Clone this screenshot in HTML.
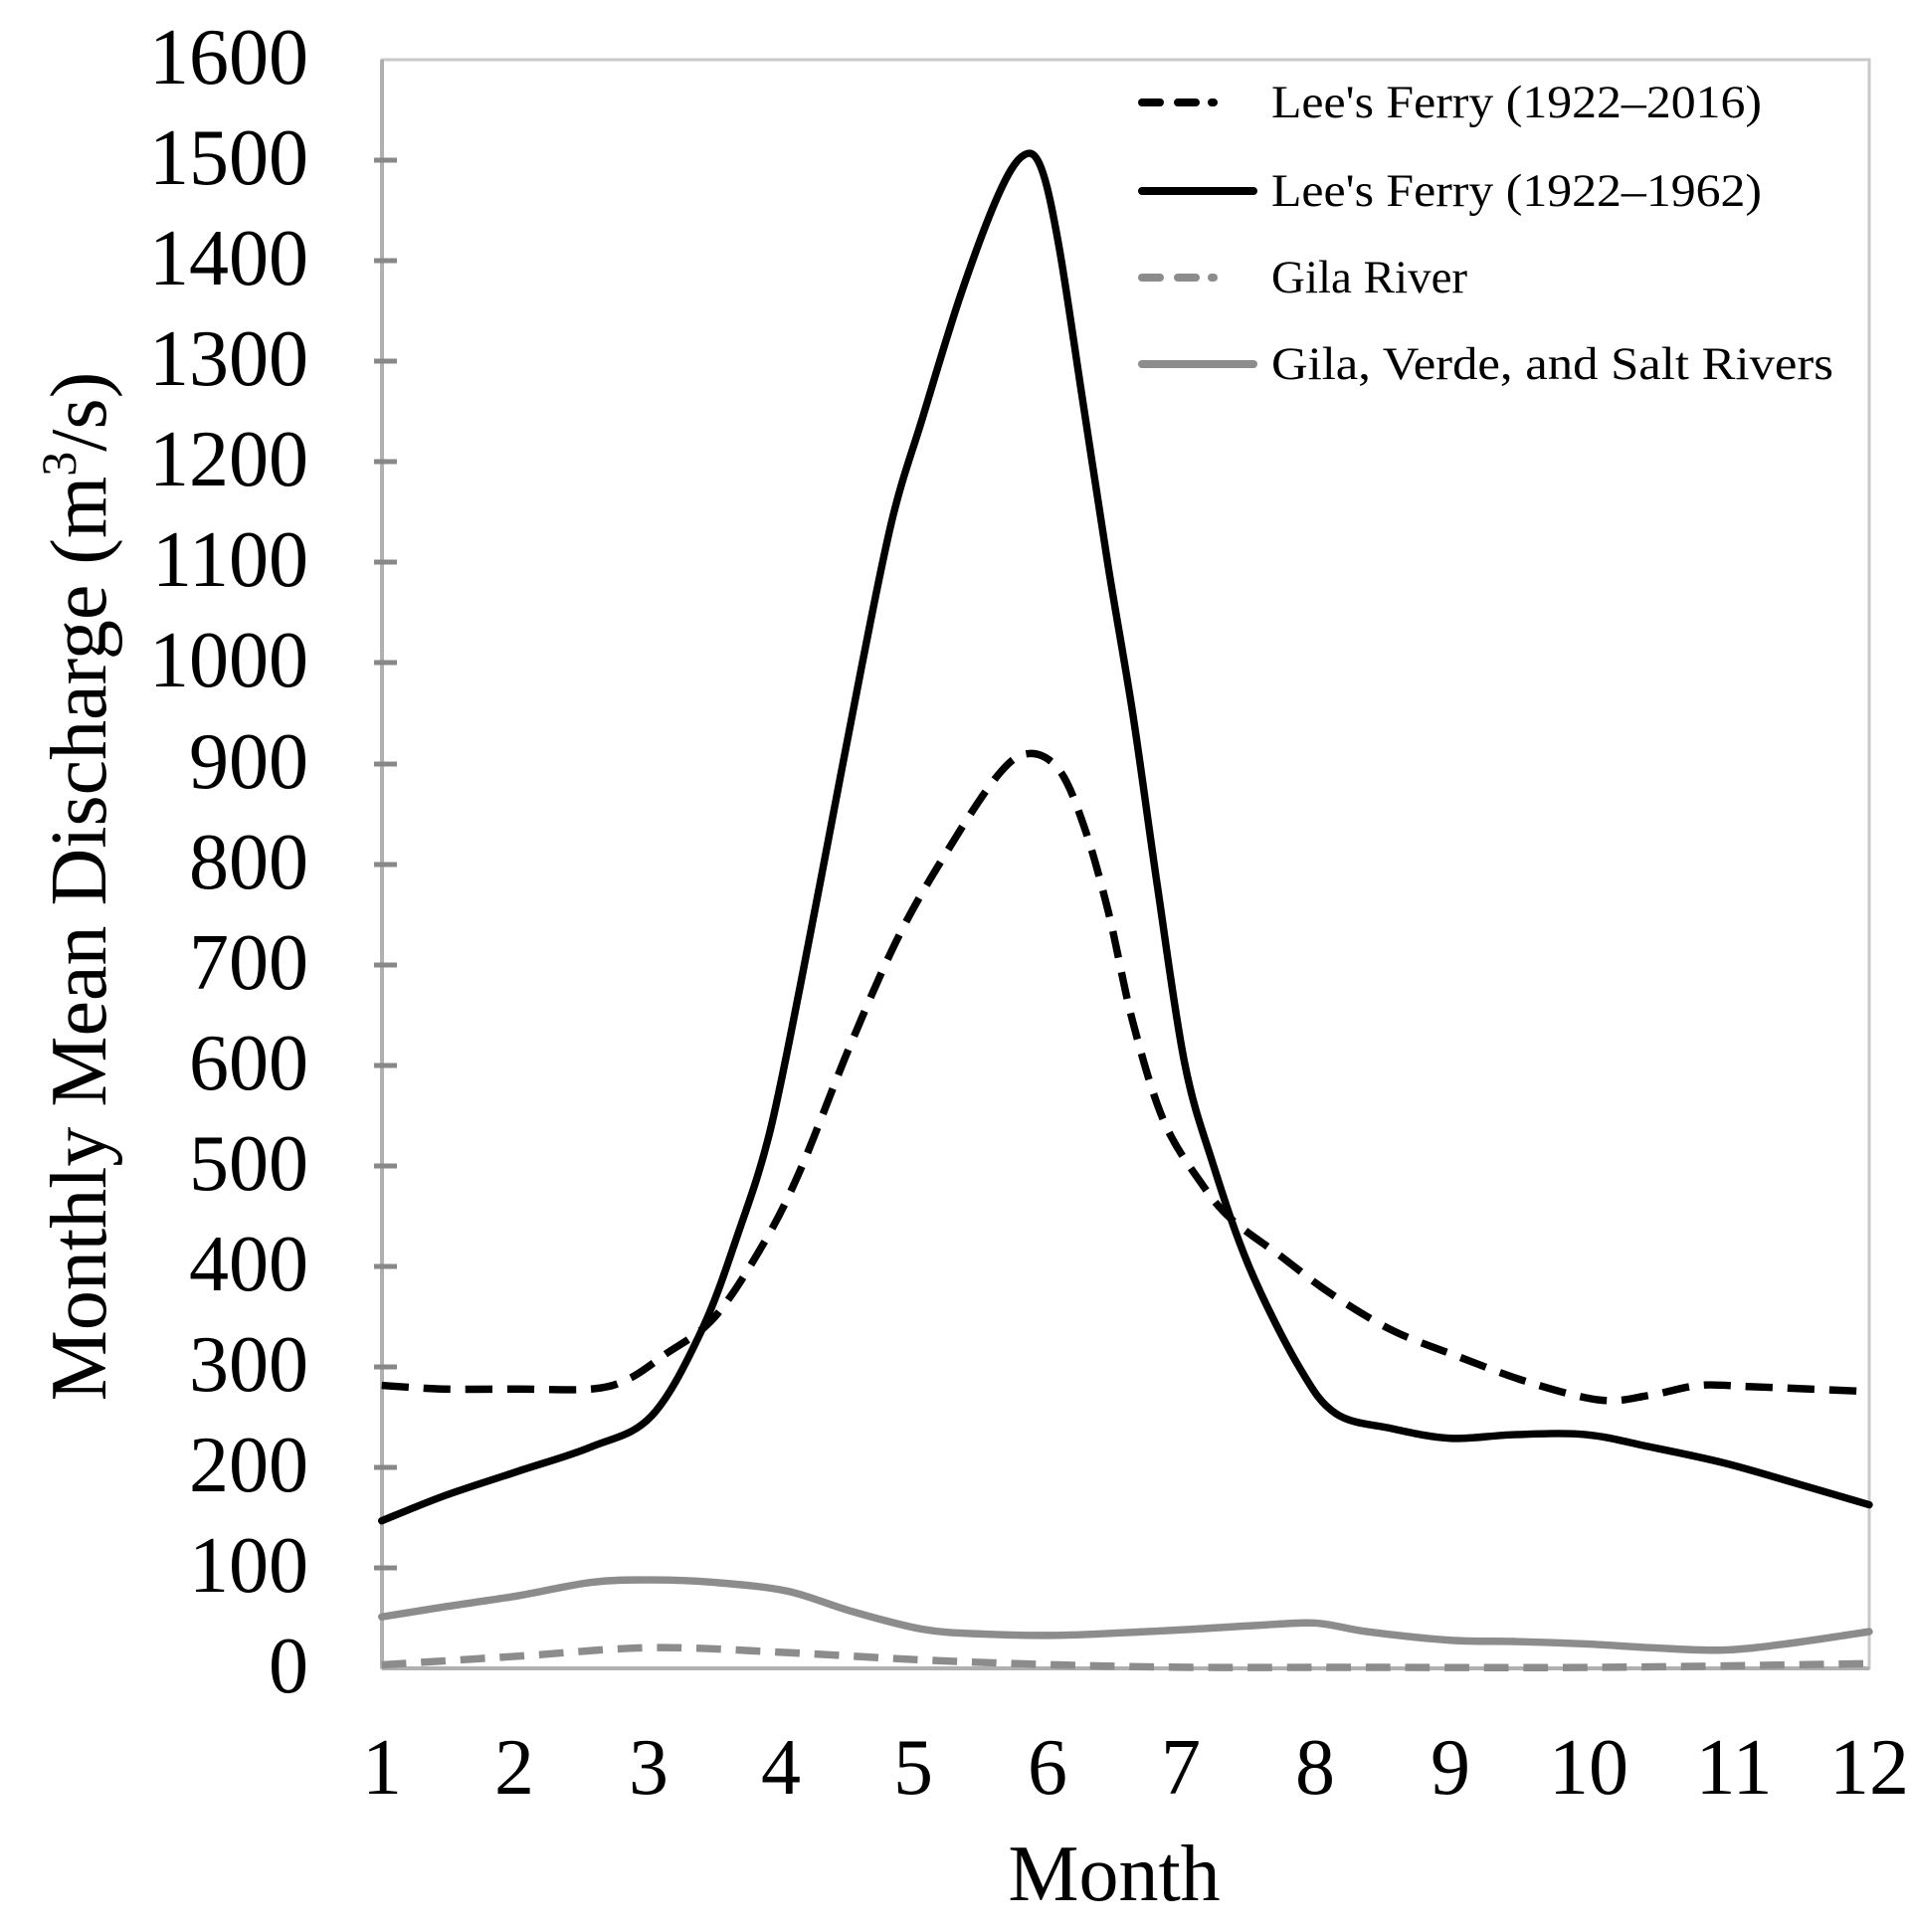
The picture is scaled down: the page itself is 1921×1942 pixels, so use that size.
<!DOCTYPE html>
<html><head><meta charset="utf-8"><style>
html,body{margin:0;padding:0;background:#fff;}
svg{display:block;}
text{font-family:"Liberation Serif",serif;fill:#000;}
</style></head><body>
<svg width="1921" height="1942" viewBox="0 0 1921 1942" xmlns="http://www.w3.org/2000/svg">
<rect x="0" y="0" width="1921" height="1942" fill="#fff"/>
<rect x="384" y="60" width="1495" height="1617" fill="none" stroke="#c8c8c8" stroke-width="3"/>
<line x1="384" y1="60" x2="384" y2="1677" stroke="#b0b0b0" stroke-width="4"/>
<line x1="384" y1="1677" x2="1879" y2="1677" stroke="#b0b0b0" stroke-width="4"/>
<g stroke="#888" stroke-width="5">
<line x1="376" y1="1576" x2="399" y2="1576"/><line x1="376" y1="1475" x2="399" y2="1475"/>
<line x1="376" y1="1374" x2="399" y2="1374"/><line x1="376" y1="1273" x2="399" y2="1273"/>
<line x1="376" y1="1172" x2="399" y2="1172"/><line x1="376" y1="1071" x2="399" y2="1071"/>
<line x1="376" y1="970" x2="399" y2="970"/><line x1="376" y1="869" x2="399" y2="869"/>
<line x1="376" y1="768" x2="399" y2="768"/><line x1="376" y1="666" x2="399" y2="666"/>
<line x1="376" y1="565" x2="399" y2="565"/><line x1="376" y1="464" x2="399" y2="464"/>
<line x1="376" y1="363" x2="399" y2="363"/><line x1="376" y1="262" x2="399" y2="262"/>
<line x1="376" y1="161" x2="399" y2="161"/>
</g>
<g font-size="80" text-anchor="end">
<text x="310" y="84">1600</text><text x="310" y="185">1500</text><text x="310" y="286">1400</text>
<text x="310" y="387">1300</text><text x="310" y="488">1200</text><text x="310" y="589">1100</text>
<text x="310" y="690">1000</text><text x="310" y="792">900</text><text x="310" y="893">800</text>
<text x="310" y="994">700</text><text x="310" y="1095">600</text><text x="310" y="1196">500</text>
<text x="310" y="1297">400</text><text x="310" y="1398">300</text><text x="310" y="1499">200</text>
<text x="310" y="1600">100</text><text x="310" y="1701">0</text>
</g>
<g font-size="80" text-anchor="middle">
<text x="384" y="1803">1</text><text x="517" y="1803">2</text><text x="652" y="1803">3</text>
<text x="785" y="1803">4</text><text x="918" y="1803">5</text><text x="1053" y="1803">6</text>
<text x="1187" y="1803">7</text><text x="1322" y="1803">8</text><text x="1458" y="1803">9</text>
<text x="1597" y="1803">10</text><text x="1743" y="1803">11</text><text x="1879" y="1803">12</text>
</g>
<text x="1120" y="1910" font-size="80" text-anchor="middle">Month</text>
<text transform="translate(106,891) rotate(-90)" font-size="80" text-anchor="middle">Monthly Mean Discharge (m<tspan font-size="50" dy="-30">3</tspan><tspan dy="30">/s)</tspan></text>

<g transform="scale(1.2378)" fill="none" stroke-linejoin="round" stroke-linecap="round">
<path stroke="#8c8c8c" stroke-width="6" data-pts="310,1313 360,1305 420,1296 480,1285 529,1283 580,1285 639,1292 690,1308 749,1323 800,1327 859,1328 910,1326 969,1323 1020,1320 1068,1318 1110,1325 1178,1332 1230,1333 1288,1335 1340,1338 1398,1340 1450,1335 1518,1325"/>
<path stroke="#8c8c8c" stroke-width="6" stroke-dasharray="20,12" stroke-linecap="butt" data-pts="310,1352 420,1345 529,1338 639,1342 749,1348 859,1352 969,1354 1100,1354 1300,1354 1518,1351"/>
<path stroke="#000" stroke-width="6" data-pts="310,1235 360,1215 420,1195 480,1175 529,1150 570,1080 600,1000 625,920 650,800 675,670 700,540 725,420 749,340 780,240 810,160 830,127 845,135 860,200 880,330 900,460 920,580 940,720 962,863 985,945 1015,1030 1055,1110 1085,1148 1130,1160 1178,1168 1230,1165 1288,1165 1340,1175 1400,1188 1460,1205 1518,1222"/>
<path stroke="#000" stroke-width="6" stroke-dasharray="22,12" stroke-linecap="butt" data-pts="310,1125 360,1128 420,1128 480,1128 510,1120 540,1100 580,1070 620,1010 650,950 690,850 730,760 770,690 810,630 835,612 860,625 880,670 900,740 920,830 945,910 975,960 1000,990 1040,1020 1080,1050 1130,1080 1180,1100 1240,1122 1300,1137 1340,1133 1380,1125 1420,1126 1470,1128 1518,1130"/>
</g>

<g stroke-width="8" stroke-linecap="round">
<line x1="1148" y1="103" x2="1166" y2="103" stroke="#000"/><line x1="1184" y1="103" x2="1202" y2="103" stroke="#000"/><line x1="1218" y1="103" x2="1220" y2="103" stroke="#000"/>
<line x1="1148" y1="192" x2="1260" y2="192" stroke="#000"/>
<line x1="1148" y1="279" x2="1166" y2="279" stroke="#8c8c8c"/><line x1="1184" y1="279" x2="1202" y2="279" stroke="#8c8c8c"/><line x1="1218" y1="279" x2="1220" y2="279" stroke="#8c8c8c"/>
<line x1="1148" y1="366" x2="1260" y2="366" stroke="#8c8c8c"/>
</g>
<g font-size="47">
<text x="1278" y="118" textLength="493" lengthAdjust="spacingAndGlyphs">Lee's Ferry (1922–2016)</text>
<text x="1278" y="207" textLength="493" lengthAdjust="spacingAndGlyphs">Lee's Ferry (1922–1962)</text>
<text x="1278" y="294">Gila River</text>
<text x="1278" y="381" textLength="565" lengthAdjust="spacingAndGlyphs">Gila, Verde, and Salt Rivers</text>
</g>
</svg>
<script>
document.querySelectorAll('path[data-pts]').forEach(function(el){
  var p=el.getAttribute('data-pts').trim().split(/\s+/).map(function(s){return s.split(',').map(Number);});
  var d='M'+p[0][0]+','+p[0][1];
  for(var i=0;i<p.length-1;i++){
    var p0=p[i>0?i-1:0],p1=p[i],p2=p[i+1],p3=p[i+2<p.length?i+2:i+1];
    var c1x=p1[0]+(p2[0]-p0[0])/6,c1y=p1[1]+(p2[1]-p0[1])/6;
    var c2x=p2[0]-(p3[0]-p1[0])/6,c2y=p2[1]-(p3[1]-p1[1])/6;
    d+=' C'+c1x.toFixed(1)+','+c1y.toFixed(1)+' '+c2x.toFixed(1)+','+c2y.toFixed(1)+' '+p2[0]+','+p2[1];
  }
  el.setAttribute('d',d);
  el.removeAttribute('data-pts');
});
</script>
</body></html>
